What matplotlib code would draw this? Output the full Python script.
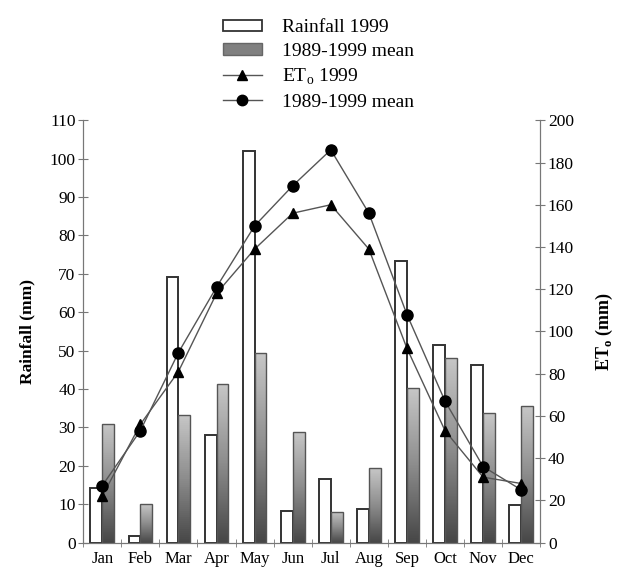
import numpy as np
import matplotlib
matplotlib.use("Agg")
import matplotlib.pyplot as plt
from matplotlib.colors import LinearSegmentedColormap
from matplotlib.patches import Patch
from matplotlib.lines import Line2D
from matplotlib.ticker import MultipleLocator

plt.rcParams['font.family'] = ['Liberation Serif', 'DejaVu Serif']
plt.rcParams['mathtext.fontset'] = 'custom'
plt.rcParams['mathtext.rm'] = 'Liberation Serif'
plt.rcParams['mathtext.bf'] = 'Liberation Serif:bold'

months = ["Jan", "Feb", "Mar", "Apr", "May", "Jun",
          "Jul", "Aug", "Sep", "Oct", "Nov", "Dec"]
rain_1999 = [14.2, 1.8, 69.2, 28.0, 102.0, 8.3, 16.6, 8.8, 73.3, 51.4, 46.2, 9.8]
rain_mean = [31.0, 10.0, 33.2, 41.2, 49.3, 28.7, 8.1, 19.4, 40.2, 48.2, 33.7, 35.6]
eto_1999 = [22, 56, 81, 118, 139, 156, 160, 139, 92, 53, 31, 28]
eto_mean = [27, 53, 90, 121, 150, 169, 186, 156, 108, 67, 36, 25]

GREY_AXIS = "#777777"
BAR_CMAP = LinearSegmentedColormap.from_list("bar", ["#474747", "#8c8c8c", "#c6c6c6"])


def gradient_bar(ax, bar):
    '''
    Fill a bar with a dark-bottom / light-top grey gradient.
    '''
    x0, y0 = bar.get_x(), bar.get_y()
    w, h = bar.get_width(), bar.get_height()
    grad = np.linspace(0, 1, 64).reshape(-1, 1)
    im = ax.imshow(grad, cmap=BAR_CMAP, vmin=0, vmax=1,
                   extent=(x0, x0 + w, y0, y0 + h), origin="lower",
                   aspect="auto", zorder=bar.get_zorder() - 0.1)
    im.set_clip_path(bar)


def main():
    fig = plt.figure(figsize=(6.21, 5.70), dpi=100)
    ax = fig.add_axes([0.134, 0.048, 0.736, 0.741])
    ax2 = ax.twinx()

    x = np.arange(len(months))
    w = 0.31

    ax.bar(x - w / 2, rain_1999, width=w, color="white",
           edgecolor="#333333", linewidth=1.4, zorder=2)
    mean_bars = ax.bar(x + w / 2, rain_mean, width=w, color="none",
                       edgecolor="#555555", linewidth=1.0, zorder=3)
    for bar in mean_bars:
        gradient_bar(ax, bar)

    ax.set_xlim(-0.5, 11.5)
    ax.set_ylim(0, 110)
    ax2.set_ylim(0, 200)

    ax2.plot(x, eto_1999, color="#555555", linewidth=1.0,
             marker="^", markersize=7.5, markerfacecolor="black",
             markeredgecolor="black")
    ax2.plot(x, eto_mean, color="#555555", linewidth=1.0,
             marker="o", markersize=8, markerfacecolor="black",
             markeredgecolor="black")

    ax.set_xticks(x)
    ax.set_xticklabels(months, fontsize=12)
    ax.tick_params(axis="x", which="major", length=0, pad=6)
    ax.xaxis.set_minor_locator(MultipleLocator(1, offset=0.5))
    ax.tick_params(axis="x", which="minor", direction="inout",
                   length=6, color=GREY_AXIS)

    ax.yaxis.set_major_locator(MultipleLocator(10))
    ax2.yaxis.set_major_locator(MultipleLocator(20))
    ax.tick_params(axis="y", direction="inout", length=7,
                   color=GREY_AXIS, labelsize=12.5, pad=2)
    ax2.tick_params(axis="y", direction="inout", length=7,
                    color=GREY_AXIS, labelsize=12.5, pad=2)

    for a in (ax, ax2):
        a.spines["top"].set_visible(False)
        for side in ("left", "right", "bottom"):
            a.spines[side].set_color(GREY_AXIS)

    ax.set_ylabel("Rainfall (mm)", fontsize=12.5, fontweight="bold",
                  labelpad=10)
    ax2.set_ylabel(r"ET$_\mathbf{o}$ (mm)", fontsize=13,
                   fontweight="bold", labelpad=14)

    handles = [
        Patch(facecolor="white", edgecolor="#333333", linewidth=1.3),
        Patch(facecolor="#808080", edgecolor="#666666", linewidth=1.0),
        Line2D([], [], color="#555555", linewidth=1.0, marker="^",
               markersize=7, markerfacecolor="black", markeredgecolor="black"),
        Line2D([], [], color="#555555", linewidth=1.0, marker="o",
               markersize=7.5, markerfacecolor="black", markeredgecolor="black"),
    ]
    labels = ["Rainfall 1999", "1989-1999 mean", r"ET$_\mathrm{o}$ 1999",
              "1989-1999 mean"]
    fig.legend(handles, labels, loc="upper left",
               bbox_to_anchor=(0.359, 0.966), frameon=False, fontsize=14,
               handlelength=2.0, handleheight=0.55, labelspacing=0.34,
               handletextpad=1.05, borderpad=0, borderaxespad=0)

    fig.savefig("out.png", dpi=100)


if __name__ == "__main__":
    main()
